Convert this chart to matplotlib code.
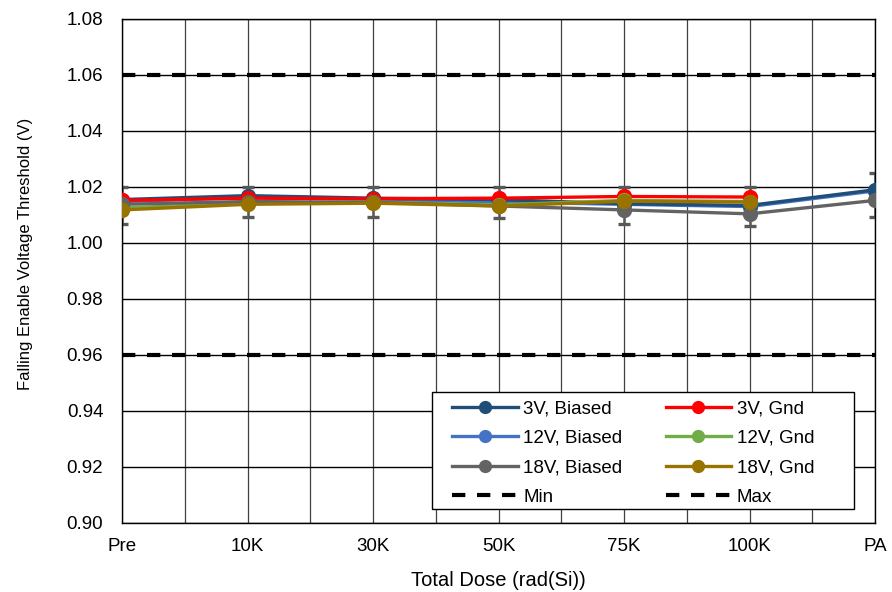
import numpy as np
import matplotlib.pyplot as plt
from matplotlib.patches import Rectangle
from matplotlib.ticker import MultipleLocator, FormatStrFormatter

plt.rcParams['font.family'] = ['Liberation Sans', 'DejaVu Sans']

doses = ['Pre', '10K', '30K', '50K', '75K', '100K', 'PA']

v3_biased = [1.0155, 1.0169, 1.0160, 1.0155, 1.0140, 1.0134, 1.0190]
v3_gnd = [1.0152, 1.0160, 1.0158, 1.0160, 1.0166, 1.0164, np.nan]
v12_biased = [1.0148, 1.0162, 1.0156, 1.0146, 1.0138, 1.0130, 1.0186]
v12_gnd = [1.0125, 1.0142, 1.0146, 1.0136, 1.0152, 1.0148, np.nan]
v18_biased = [1.0138, 1.0148, 1.0145, 1.0132, 1.0118, 1.0104, 1.0152]
v18_gnd = [1.0118, 1.0138, 1.0142, 1.0132, 1.0149, 1.0146, np.nan]

# spread of the measured units at each dose step
err_low = [1.0068, 1.0092, 1.0092, 1.0090, 1.0066, 1.0062, 1.0092]
err_high = [1.0199, 1.0199, 1.0199, 1.0199, 1.0199, 1.0199, 1.0249]

limit_min = 0.96
limit_max = 1.06

# name, values, colour, draw order
series = [
    ('3V, Biased', v3_biased, '#1f4e79', 3.1),
    ('3V, Gnd', v3_gnd, '#ff0000', 3.2),
    ('12V, Biased', v12_biased, '#4472c4', 3.0),
    ('12V, Gnd', v12_gnd, '#70ad47', 3.3),
    ('18V, Biased', v18_biased, '#636363', 3.4),
    ('18V, Gnd', v18_gnd, '#997300', 3.5),
]

fs = 13.5

fig = plt.figure(figsize=(8.92, 5.92), dpi=100)
ax = fig.add_axes([0.1368, 0.1166, 0.8442, 0.8514])

x = np.arange(len(doses))

# error bars sit behind the series lines
mid = np.array(v18_biased)
ax.errorbar(x, mid, yerr=[mid - np.array(err_low), np.array(err_high) - mid],
            fmt='none', ecolor='#595959', elinewidth=1.8, capsize=4.3,
            capthick=2.4, zorder=2)

handles = {}
for name, vals, col, z in series:
    h, = ax.plot(x, vals, '-o', color=col, lw=2.4, ms=10, label=name, zorder=z)
    handles[name] = h

dash = (0, (3.2, 2.8))
h_min = ax.axhline(limit_min, color='black', lw=3, linestyle=dash, label='Min', zorder=2.5)
h_max = ax.axhline(limit_max, color='black', lw=3, linestyle=dash, label='Max', zorder=2.5)

ax.set_xlim(0, len(doses) - 1)
ax.set_ylim(0.90, 1.08)
ax.set_xticks(x)
ax.set_xticklabels(doses)
ax.set_xticks(x[:-1] + 0.5, minor=True)
ax.yaxis.set_major_locator(MultipleLocator(0.02))
ax.yaxis.set_major_formatter(FormatStrFormatter('%.2f'))

ax.grid(True, which='major', axis='y', color='black', lw=1.0, zorder=0)
ax.grid(True, which='both', axis='x', color='#404040', lw=0.9, zorder=0)
ax.set_axisbelow(True)
ax.tick_params(axis='both', which='both', length=0, labelsize=fs)
ax.tick_params(axis='x', pad=11)
ax.tick_params(axis='y', pad=13.5)
for s in ax.spines.values():
    s.set_color('black')
    s.set_linewidth(1.0)

ax.set_xlabel('Total Dose (rad(Si))', fontsize=14.5, labelpad=11)
ax.set_ylabel('Falling Enable Voltage Threshold (V)', fontsize=12)
ax.yaxis.set_label_coords(-0.118, 0.534)

# legend box, drawn separately so it can be wider than the entries need
ax.add_patch(Rectangle((0.4117, 0.0278), 0.5604, 0.2321, transform=ax.transAxes,
                       facecolor='white', edgecolor='black', lw=1.0, zorder=4))

order = ['3V, Biased', '12V, Biased', '18V, Biased']
order_g = ['3V, Gnd', '12V, Gnd', '18V, Gnd']
hl = [handles[n] for n in order] + [h_min] + [handles[n] for n in order_g] + [h_max]
labels = order + ['Min'] + order_g + ['Max']
leg = ax.legend(hl, labels, ncol=2, loc='upper left', bbox_to_anchor=(0.4382, 0.244),
                fontsize=fs, frameon=False, borderpad=0, borderaxespad=0,
                labelspacing=0.66, handlelength=3.5, handletextpad=0.3,
                columnspacing=2.3, markerscale=0.85)
leg.set_zorder(5)

fig.savefig('out.png', dpi=100)
